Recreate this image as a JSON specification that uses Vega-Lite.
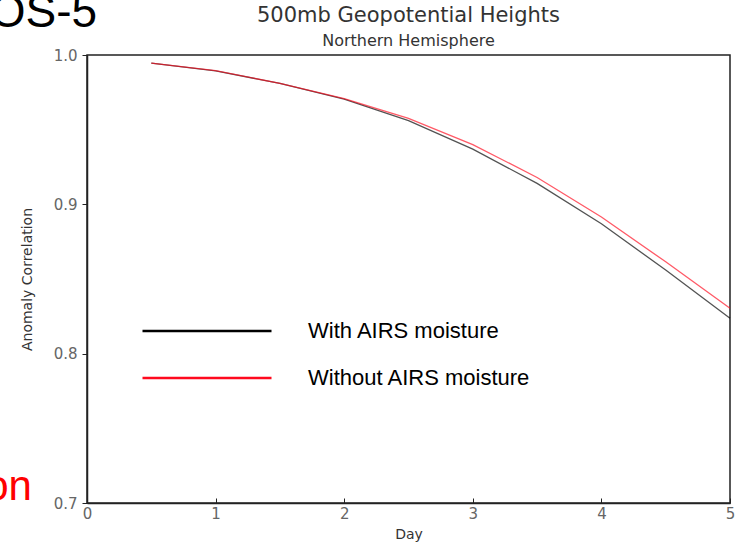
{
  "$schema": "https://vega.github.io/schema/vega-lite/v6.json",
  "width": 643,
  "height": 448,
  "autosize": "none",
  "padding": {"left": 87, "top": 55, "right": 13, "bottom": 45},
  "background": "white",
  "title": {
    "text": "500mb Geopotential Heights",
    "subtitle": "Northern Hemisphere",
    "anchor": "middle",
    "frame": "group",
    "font": "DejaVu Sans",
    "fontSize": 21,
    "fontWeight": "normal",
    "color": "#333",
    "subtitleFont": "DejaVu Sans",
    "subtitleFontSize": 16,
    "subtitleColor": "#333",
    "subtitlePadding": 7,
    "offset": -59
  },
  "layer": [
    {
      "data": {
        "values": [
          {"day": 0.5, "ac": 0.9945, "series": "With AIRS moisture"},
          {"day": 1.0, "ac": 0.9893, "series": "With AIRS moisture"},
          {"day": 1.5, "ac": 0.981, "series": "With AIRS moisture"},
          {"day": 2.0, "ac": 0.9705, "series": "With AIRS moisture"},
          {"day": 2.5, "ac": 0.956, "series": "With AIRS moisture"},
          {"day": 3.0, "ac": 0.937, "series": "With AIRS moisture"},
          {"day": 3.5, "ac": 0.914, "series": "With AIRS moisture"},
          {"day": 4.0, "ac": 0.887, "series": "With AIRS moisture"},
          {"day": 4.5, "ac": 0.856, "series": "With AIRS moisture"},
          {"day": 5.0, "ac": 0.8237, "series": "With AIRS moisture"},
          {"day": 0.5, "ac": 0.9945, "series": "Without AIRS moisture"},
          {"day": 1.0, "ac": 0.9895, "series": "Without AIRS moisture"},
          {"day": 1.5, "ac": 0.981, "series": "Without AIRS moisture"},
          {"day": 2.0, "ac": 0.9708, "series": "Without AIRS moisture"},
          {"day": 2.5, "ac": 0.9575, "series": "Without AIRS moisture"},
          {"day": 3.0, "ac": 0.940, "series": "Without AIRS moisture"},
          {"day": 3.5, "ac": 0.918, "series": "Without AIRS moisture"},
          {"day": 4.0, "ac": 0.8915, "series": "Without AIRS moisture"},
          {"day": 4.5, "ac": 0.8615, "series": "Without AIRS moisture"},
          {"day": 5.0, "ac": 0.8304, "series": "Without AIRS moisture"}
        ]
      },
      "mark": {"type": "line", "strokeWidth": 1.3, "strokeOpacity": 0.68},
      "encoding": {
        "x": {
          "field": "day",
          "type": "quantitative",
          "scale": {"domain": [0, 5], "nice": false, "zero": false},
          "axis": {
            "title": "Day",
            "values": [0, 1, 2, 3, 4, 5],
            "format": "d",
            "tickSize": -5,
            "labelPadding": 8,
            "titlePadding": 6
          }
        },
        "y": {
          "field": "ac",
          "type": "quantitative",
          "scale": {"domain": [0.7, 1.0], "nice": false, "zero": false},
          "axis": {
            "title": "Anomaly Correlation",
            "values": [0.7, 0.8, 0.9, 1.0],
            "format": ".1f",
            "tickSize": 5,
            "labelPadding": 5,
            "titlePadding": 19
          }
        },
        "color": {
          "field": "series",
          "type": "nominal",
          "scale": {"domain": ["With AIRS moisture", "Without AIRS moisture"], "range": ["#000000", "#ff0a1e"]},
          "legend": {
            "title": null,
            "orient": "none",
            "legendX": 97,
            "legendY": 253,
            "symbolType": "M-3,0H3",
            "symbolSize": 1849,
            "symbolStrokeWidth": 2.5,
            "labelFont": "Liberation Sans",
            "labelFontSize": 22,
            "labelColor": "black",
            "labelOffset": 78,
            "rowPadding": 13,
            "labelLimit": 400
          }
        }
      }
    },
    {
      "data": {
        "values": [
          {"label": "GEOS-5", "day": 0.078, "ac": 1.019, "kind": "top", "size": 46},
          {"label": "on", "day": -0.428, "ac": 0.702, "kind": "bottom", "size": 42}
        ]
      },
      "mark": {"type": "text", "align": "right", "baseline": "alphabetic", "font": "Liberation Sans"},
      "encoding": {
        "x": {"field": "day", "type": "quantitative"},
        "y": {"field": "ac", "type": "quantitative"},
        "text": {"field": "label"},
        "size": {"field": "size", "type": "quantitative", "scale": null, "legend": null},
        "color": {
          "condition": {"test": "datum.kind === 'bottom'", "value": "#ff0000"},
          "value": "#000000"
        }
      }
    }
  ],
  "config": {
    "view": {"stroke": "#222", "strokeWidth": 1.5},
    "axis": {
      "grid": false,
      "labelFlush": false,
      "labelFont": "DejaVu Sans",
      "labelFontSize": 15,
      "labelColor": "#666",
      "titleFont": "DejaVu Sans",
      "titleFontSize": 14,
      "titleFontWeight": "normal",
      "titleColor": "#333",
      "domainColor": "#222",
      "domainWidth": 1.5,
      "tickColor": "#222"
    }
  }
}
